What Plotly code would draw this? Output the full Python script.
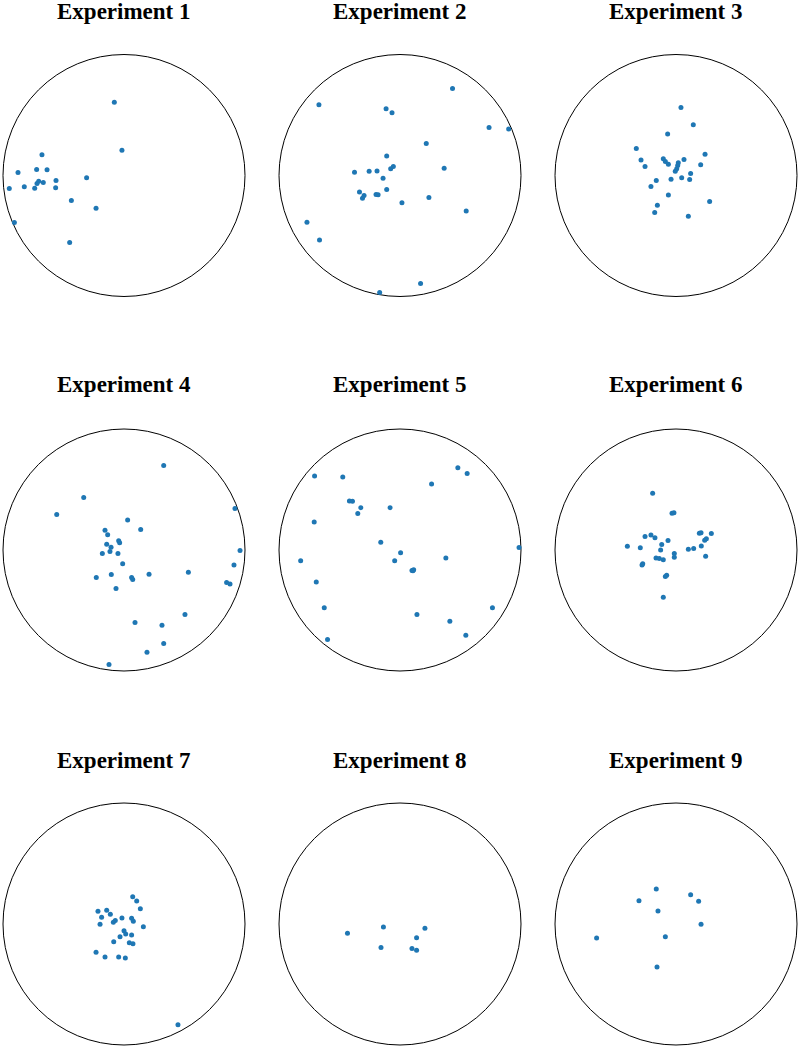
import plotly.graph_objects as go

titles = ["Experiment %d" % i for i in range(1, 10)]

# point positions, normalised to the unit circle (x right, y up)
exp1_x = [-0.080, -0.017, -0.678, -0.876, -0.722, -0.636, -0.309, -0.562, -0.705, -0.719,
          -0.667, -0.948, -0.824, -0.738, -0.565, -0.435, -0.231, -0.906, -0.449]
exp1_y = [0.606, 0.209, 0.171, 0.025, 0.050, 0.047, -0.019, -0.041, -0.047, -0.066,
          -0.058, -0.107, -0.094, -0.105, -0.102, -0.207, -0.270, -0.388, -0.554]

exp2_x = [0.434, -0.670, -0.115, -0.066, 0.736, 0.898, 0.217, -0.110, 0.365, -0.055,
          -0.077, -0.376, -0.255, -0.190, -0.140, -0.110, -0.335, -0.297, -0.310, -0.198,
          -0.181, 0.016, 0.239, 0.547, -0.769, -0.665, 0.170, -0.168]
exp2_y = [0.720, 0.585, 0.552, 0.519, 0.396, 0.385, 0.264, 0.162, 0.060, 0.074,
          0.055, 0.027, 0.036, 0.038, -0.022, -0.115, -0.137, -0.165, -0.187, -0.157,
          -0.159, -0.225, -0.181, -0.294, -0.387, -0.533, -0.893, -0.967]

exp3_x = [0.041, 0.143, -0.069, -0.328, 0.240, -0.289, -0.105, -0.088, -0.063, 0.066,
          0.019, 0.014, -0.256, 0.204, 0.006, -0.006, 0.121, 0.047, 0.113, -0.041,
          -0.163, -0.207, -0.063, 0.278, -0.154, -0.176, 0.102]
exp3_y = [0.562, 0.419, 0.344, 0.223, 0.176, 0.129, 0.138, 0.116, 0.094, 0.132,
          0.105, 0.083, 0.074, 0.088, 0.055, 0.036, 0.017, -0.019, -0.033, -0.030,
          -0.041, -0.091, -0.162, -0.215, -0.245, -0.306, -0.336]

exp4_x = [0.328, -0.333, -0.556, 0.917, 0.030, 0.138, -0.157, -0.135, -0.044, -0.036,
          -0.143, -0.107, -0.179, -0.116, -0.050, 0.959, -0.011, 0.909, 0.532, -0.229,
          -0.105, 0.063, 0.072, 0.207, 0.848, 0.876, -0.066, 0.504, 0.091, 0.314,
          0.328, 0.190, -0.124]
exp4_y = [0.698, 0.434, 0.293, 0.343, 0.247, 0.169, 0.164, 0.125, 0.076, 0.059,
          0.048, 0.023, -0.029, -0.012, -0.029, -0.004, -0.114, -0.123, -0.183, -0.227,
          -0.202, -0.227, -0.244, -0.200, -0.269, -0.282, -0.318, -0.533, -0.599, -0.621,
          -0.773, -0.845, -0.947]

exp5_x = [0.478, 0.555, -0.706, -0.473, 0.261, -0.418, -0.393, -0.324, -0.349, -0.082,
          -0.709, -0.159, 0.005, 0.984, -0.821, -0.044, 0.379, 0.099, 0.113, 0.107,
          -0.692, -0.626, 0.764, 0.140, 0.412, 0.544, -0.599]
exp5_y = [0.680, 0.633, 0.611, 0.603, 0.545, 0.405, 0.402, 0.350, 0.301, 0.350,
          0.232, 0.065, -0.023, 0.021, -0.089, -0.089, -0.067, -0.169, -0.163, -0.172,
          -0.265, -0.477, -0.477, -0.534, -0.589, -0.705, -0.740]

exp6_x = [-0.193, -0.033, -0.017, -0.256, -0.207, -0.174, -0.402, -0.295, -0.118, -0.066,
          -0.127, -0.014, -0.014, -0.165, -0.138, -0.105, -0.275, -0.281, -0.088, -0.077,
          -0.105, 0.102, 0.146, 0.209, 0.193, 0.207, 0.292, 0.237, 0.251, 0.245]
exp6_y = [0.470, 0.304, 0.307, 0.112, 0.123, 0.101, 0.032, 0.018, 0.045, 0.079,
          0.001, -0.029, -0.059, -0.067, -0.070, -0.081, -0.114, -0.123, -0.219, -0.208,
          -0.390, 0.007, 0.012, 0.034, 0.139, 0.142, 0.136, 0.081, 0.092, -0.051]

exp7_x = [0.072, 0.105, 0.135, -0.215, -0.143, -0.113, -0.185, -0.072, -0.088, -0.017,
          0.063, 0.077, -0.198, 0.160, 0.000, 0.014, -0.033, 0.063, -0.085, 0.044,
          0.074, -0.231, -0.157, -0.044, 0.011, 0.446]
exp7_y = [0.226, 0.190, 0.127, 0.105, 0.113, 0.080, 0.055, 0.028, 0.014, 0.050,
          0.047, 0.022, -0.003, -0.022, -0.055, -0.083, -0.105, -0.091, -0.146, -0.154,
          -0.163, -0.234, -0.273, -0.273, -0.281, -0.832]

exp8_x = [-0.137, 0.206, -0.434, 0.137, -0.157, 0.099, 0.137]
exp8_y = [-0.025, -0.036, -0.077, -0.113, -0.195, -0.203, -0.217]

exp9_x = [-0.163, 0.121, -0.306, 0.187, -0.149, 0.207, -0.088, -0.656, -0.157]
exp9_y = [0.289, 0.242, 0.193, 0.187, 0.107, -0.003, -0.105, -0.116, -0.355]

xs = [exp1_x, exp2_x, exp3_x, exp4_x, exp5_x, exp6_x, exp7_x, exp8_x, exp9_x]
ys = [exp1_y, exp2_y, exp3_y, exp4_y, exp5_y, exp6_y, exp7_y, exp8_y, exp9_y]

W, H = 800, 1048
col_cx = [124, 400, 676]
row_cy = [175.5, 550, 924]
title_y = [11.5, 384.5, 760.5]
R = 121
pad = 1.02

fig = go.Figure()
for i in range(9):
    r, c = divmod(i, 3)
    n = "" if i == 0 else str(i + 1)
    cx, cy = col_cx[c], H - row_cy[r]
    half = R * pad
    fig.add_trace(go.Scatter(
        x=xs[i], y=ys[i], mode="markers", xaxis="x" + n, yaxis="y" + n,
        marker=dict(size=5, color="#1f77b4"), cliponaxis=False, showlegend=False
    ))
    ax = dict(range=[-pad, pad], visible=False, fixedrange=True)
    fig.update_layout(**{
        "xaxis" + n: dict(ax, domain=[max(0, (cx - half) / W), min(1, (cx + half) / W)], anchor="y" + n),
        "yaxis" + n: dict(ax, domain=[max(0, (cy - half) / H), min(1, (cy + half) / H)], anchor="x" + n),
    })
    fig.add_shape(type="circle", xref="x" + n, yref="y" + n,
                  x0=-1, y0=-1, x1=1, y1=1, line=dict(color="black", width=1), layer="below")
    fig.add_annotation(text="<b>%s</b>" % titles[i], xref="paper", yref="paper",
                       x=col_cx[c] / W, y=1 - title_y[r] / H, showarrow=False,
                       xanchor="center", yanchor="middle",
                       font=dict(family="Liberation Serif", size=23, color="black"))

fig.update_layout(width=W, height=H, margin=dict(l=0, r=0, t=0, b=0),
                  plot_bgcolor="white", paper_bgcolor="white")
fig.write_html("out.html", config={"displayModeBar": False},
               post_script="document.body.style.margin='0px';")
